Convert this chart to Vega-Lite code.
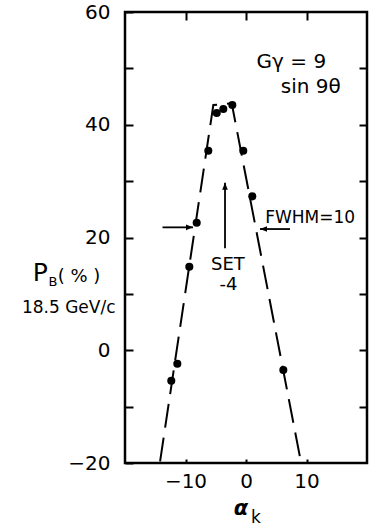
{
  "$schema": "https://vega.github.io/schema/vega-lite/v6.json",
  "autosize": {"type": "none"},
  "padding": {"left": 125, "top": 12, "right": 3, "bottom": 63},
  "width": 242,
  "height": 451,
  "background": "white",
  "config": {
    "view": {"stroke": "black", "strokeWidth": 2.5},
    "axis": {
      "domain": false,
      "grid": false,
      "tickColor": "black",
      "tickWidth": 2,
      "labelColor": "black",
      "labelFont": "DejaVu Sans",
      "labelFontSize": 20,
      "title": null
    },
    "text": {"font": "DejaVu Sans", "color": "black", "align": "center", "baseline": "alphabetic"}
  },
  "datasets": {
    "measured": [
      {"alpha": -6.23, "pol": 35.4},
      {"alpha": -4.84, "pol": 42.1},
      {"alpha": -3.75, "pol": 42.8},
      {"alpha": -2.26, "pol": 43.5},
      {"alpha": -0.45, "pol": 35.4},
      {"alpha": 1.04, "pol": 27.3},
      {"alpha": -8.15, "pol": 22.6},
      {"alpha": -9.37, "pol": 14.8},
      {"alpha": -11.35, "pol": -2.4},
      {"alpha": -12.35, "pol": -5.4},
      {"alpha": 6.17, "pol": -3.5}
    ],
    "fit": [
      {"step": 1, "alpha": -14.2, "pol": -19.7},
      {"step": 2, "alpha": -5.4, "pol": 43.5},
      {"step": 3, "alpha": -2.36, "pol": 43.8},
      {"step": 4, "alpha": 8.93, "pol": -19.0}
    ],
    "arrows": [
      {"dir": "right", "x0": -13.8, "y0": 21.8, "x1": -8.76, "y1": 21.8},
      {"dir": "left", "x0": 7.27, "y0": 21.5, "x1": 2.31, "y1": 21.5},
      {"dir": "up", "x0": -3.47, "y0": 18.1, "x1": -3.47, "y1": 29.7}
    ],
    "labels": [
      {"text": "Gγ = 9", "kind": "main", "x": 7.5, "y": 50.1},
      {"text": "sin 9θ", "kind": "main", "x": 10.7, "y": 45.6},
      {"text": "FWHM=10", "kind": "note", "x": 10.6, "y": 22.6},
      {"text": "SET", "kind": "set", "x": -3.0, "y": 14.3},
      {"text": "-4", "kind": "set", "x": -2.9, "y": 10.6},
      {"text": "P", "kind": "big", "x": -34.0, "y": 12.2},
      {"text": "B", "kind": "sub", "x": -31.9, "y": 11.4},
      {"text": "( % )", "kind": "paren", "x": -27.6, "y": 12.15},
      {"text": "18.5 GeV/c", "kind": "unit", "x": -29.3, "y": 6.65},
      {"text": "k", "kind": "note", "x": 1.63, "y": -30.6},
      {"text": "α", "kind": "greek", "x": -0.83, "y": -29.2}
    ]
  },
  "resolve": {"axis": {"x": "independent", "y": "independent"}},
  "layer": [
    {
      "data": {"name": "fit"},
      "mark": {"type": "line", "color": "black", "strokeWidth": 2, "strokeDash": [24, 10]},
      "encoding": {
        "x": {"field": "alpha", "type": "quantitative",
              "scale": {"domain": [-20, 20], "nice": false, "zero": false},
              "axis": {"orient": "top", "values": [-10, 0, 10], "tickSize": -8, "labels": false}},
        "y": {"field": "pol", "type": "quantitative",
              "scale": {"domain": [-20, 60], "nice": false, "zero": false},
              "axis": {"orient": "right", "values": [-10, 0, 10, 20, 30, 40, 50], "tickSize": -8, "labels": false}},
        "order": {"field": "step", "type": "quantitative"}
      }
    },
    {
      "data": {"name": "measured"},
      "mark": {"type": "point", "filled": true, "shape": "circle", "color": "black", "opacity": 1, "size": 65},
      "encoding": {
        "x": {"field": "alpha", "type": "quantitative",
              "scale": {"domain": [-20, 20], "nice": false, "zero": false},
              "axis": {"orient": "bottom", "values": [-10, 0, 10], "tickSize": -4, "labelPadding": 12}},
        "y": {"field": "pol", "type": "quantitative",
              "scale": {"domain": [-20, 60], "nice": false, "zero": false},
              "axis": {"orient": "left", "values": [-20, -10, 0, 10, 20, 30, 40, 50, 60], "tickSize": -8, "labelPadding": 23,
                       "labelExpr": "datum.value % 20 === 0 ? datum.label : ''"}}
      }
    },
    {
      "data": {"name": "arrows"},
      "mark": {"type": "rule", "color": "black", "strokeWidth": 1.8},
      "encoding": {
        "x": {"field": "x0", "type": "quantitative", "axis": null},
        "x2": {"field": "x1"},
        "y": {"field": "y0", "type": "quantitative", "axis": null},
        "y2": {"field": "y1"}
      }
    },
    {
      "data": {"name": "arrows"},
      "mark": {"type": "point", "filled": true, "color": "black", "opacity": 1, "size": 196, "strokeWidth": 0},
      "encoding": {
        "x": {"field": "x1", "type": "quantitative", "axis": null},
        "y": {"field": "y1", "type": "quantitative", "axis": null},
        "shape": {"field": "dir", "type": "nominal", "legend": null,
                  "scale": {"domain": ["right", "left", "up"],
                            "range": ["M0,0L-1,-0.4L-1,0.4Z", "M0,0L1,-0.4L1,0.4Z", "M0,0L-0.4,1L0.4,1Z"]}}
      }
    },
    {
      "data": {"name": "labels"},
      "transform": [{"filter": "datum.kind === 'main'"}],
      "mark": {"type": "text", "fontSize": 20},
      "encoding": {
        "x": {"field": "x", "type": "quantitative", "axis": null},
        "y": {"field": "y", "type": "quantitative", "axis": null},
        "text": {"field": "text"}
      }
    },
    {
      "data": {"name": "labels"},
      "transform": [{"filter": "datum.kind === 'note'"}],
      "mark": {"type": "text", "fontSize": 17},
      "encoding": {
        "x": {"field": "x", "type": "quantitative", "axis": null},
        "y": {"field": "y", "type": "quantitative", "axis": null},
        "text": {"field": "text"}
      }
    },
    {
      "data": {"name": "labels"},
      "transform": [{"filter": "datum.kind === 'set'"}],
      "mark": {"type": "text", "fontSize": 18},
      "encoding": {
        "x": {"field": "x", "type": "quantitative", "axis": null},
        "y": {"field": "y", "type": "quantitative", "axis": null},
        "text": {"field": "text"}
      }
    },
    {
      "data": {"name": "labels"},
      "transform": [{"filter": "datum.kind === 'big'"}],
      "mark": {"type": "text", "fontSize": 25},
      "encoding": {
        "x": {"field": "x", "type": "quantitative", "axis": null},
        "y": {"field": "y", "type": "quantitative", "axis": null},
        "text": {"field": "text"}
      }
    },
    {
      "data": {"name": "labels"},
      "transform": [{"filter": "datum.kind === 'sub'"}],
      "mark": {"type": "text", "fontSize": 13},
      "encoding": {
        "x": {"field": "x", "type": "quantitative", "axis": null},
        "y": {"field": "y", "type": "quantitative", "axis": null},
        "text": {"field": "text"}
      }
    },
    {
      "data": {"name": "labels"},
      "transform": [{"filter": "datum.kind === 'paren'"}],
      "mark": {"type": "text", "fontSize": 18},
      "encoding": {
        "x": {"field": "x", "type": "quantitative", "axis": null},
        "y": {"field": "y", "type": "quantitative", "axis": null},
        "text": {"field": "text"}
      }
    },
    {
      "data": {"name": "labels"},
      "transform": [{"filter": "datum.kind === 'unit'"}],
      "mark": {"type": "text", "fontSize": 17},
      "encoding": {
        "x": {"field": "x", "type": "quantitative", "axis": null},
        "y": {"field": "y", "type": "quantitative", "axis": null},
        "text": {"field": "text"}
      }
    },
    {
      "data": {"name": "labels"},
      "transform": [{"filter": "datum.kind === 'greek'"}],
      "mark": {"type": "text", "fontSize": 21, "fontWeight": "bold", "fontStyle": "italic"},
      "encoding": {
        "x": {"field": "x", "type": "quantitative", "axis": null},
        "y": {"field": "y", "type": "quantitative", "axis": null},
        "text": {"field": "text"}
      }
    }
  ]
}
